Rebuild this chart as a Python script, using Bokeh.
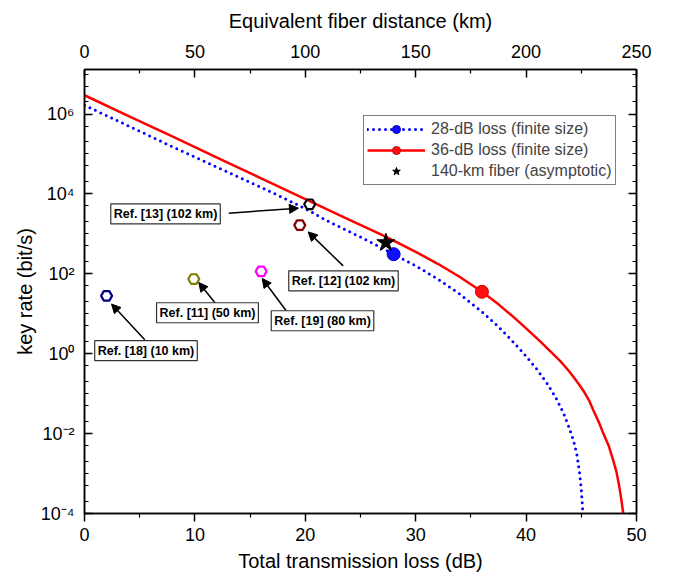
from bokeh.plotting import figure
from bokeh.models import (Range1d, LinearAxis, LogAxis, FixedTicker, Label, Arrow,
                          NormalHead, Legend, LegendItem)
from bokeh.embed import file_html
from bokeh.resources import INLINE

# ---------------- data ----------------
loss_28 = [0, 4, 8, 12, 16.2, 20, 22, 25, 28, 30, 32, 34, 36, 37.4, 38.6, 39.8, 41.0,
           41.9, 42.7, 43.4, 43.9, 44.3, 44.6, 44.84, 45.0, 45.14, 45.18]
rate_28 = [1.66e6, 5.0e5, 1.5e5, 4.7e4, 1.38e4, 4.3e3, 2.1e3, 830, 310, 158, 74, 31,
           11.2, 5.0, 2.3, 1.0, 0.4, 0.18, 0.079, 0.032, 0.014, 0.0066, 0.003, 0.00105,
           4e-4, 1.07e-4, 8e-5]

loss_36 = [0, 4, 8, 12, 16, 20, 24, 26.8, 28, 30, 32, 34, 36, 37.5, 38.9, 40, 41.3,
           42.2, 43.1, 43.8, 44.3, 44.8, 45.2, 45.7, 46.1, 46.6, 47.0, 47.5, 47.9, 48.2,
           48.4, 48.6, 48.8, 48.85]
rate_36 = [2.95e6, 8.9e5, 2.7e5, 8.1e4, 2.45e4, 7.4e3, 2.24e3, 980, 676, 355, 178, 83,
           35.5, 17.2, 8.1, 4.3, 2.0, 1.15, 0.65, 0.39, 0.26, 0.17, 0.117, 0.068, 0.038,
           0.019, 0.01, 0.0048, 0.0021, 0.00105, 0.00055, 0.00025, 1.0e-4, 8e-5]

series_labels = ["28-dB loss (finite size)", "36-dB loss (finite size)",
                 "140-km fiber (asymptotic)"]
ball_loss = [28.0, 36.0]
ball_rate = [310, 35.5]
ball_colors = ["#1010ff", "#ff1010"]
star_loss = [27.3]
star_rate = [600]

ref_names = ["Ref. [18] (10 km)", "Ref. [11] (50 km)", "Ref. [19] (80 km)",
             "Ref. [12] (102 km)", "Ref. [13] (102 km)"]
ref_loss = [2.0, 9.9, 16.0, 19.5, 20.4]
ref_rate = [28, 74, 115, 1650, 5500]
ref_colors = ["#000080", "#808000", "#ff00ff", "#800000", "#000000"]

y_ticks = [1e-4, 1e-2, 1.0, 1e2, 1e4, 1e6]
y_tick_labels = ["10\u207b\u2074", "10\u207b\u00b2", "10\u2070", "10\u00b2", "10\u2074", "10\u2076"]
x_ticks = [0, 10, 20, 30, 40, 50]
km_ticks = [0, 50, 100, 150, 200, 250]

# annotation placement (label centre, arrow start, arrow end) in data coordinates
label_pos = [(5.57, 1.19), (11.14, 10.6), (21.56, 6.68), (23.46, 66.8), (7.34, 3160)]
arrow_pos = [((5.46, 2.24), (2.45, 17.5)),
             ((11.87, 18.1), (10.35, 60.6)),
             ((18.27, 11.9), (16.1, 76.3)),
             ((23.43, 158), (20.26, 1120)),
             ((13.07, 3292), (19.38, 4390))]

FONT = "Liberation Sans"

p = figure(width=677, height=580, x_range=Range1d(0, 50), y_range=Range1d(1e-4, 1.3e7),
           y_axis_type="log", output_backend="svg", toolbar_location=None,
           min_border_left=84, min_border_right=41, min_border_top=69, min_border_bottom=67)
p.xgrid.visible = False
p.ygrid.visible = False
p.outline_line_color = "black"
p.outline_line_width = 1.5
p.background_fill_color = "white"
p.border_fill_color = "white"

y_minor = []
for d in range(-4, 8):
    for m in (1, 2, 5):
        y_minor.append(m * 10.0 ** d)


def style_axis(ax, inward=True, major=8, minor=4):
    ax.axis_line_color = "black"
    ax.axis_line_width = 1.5
    ax.major_tick_line_width = 1.5
    ax.minor_tick_line_width = 1.2
    ax.major_tick_line_color = "black"
    ax.minor_tick_line_color = "black"
    if inward:
        ax.major_tick_in = major
        ax.major_tick_out = 0
        ax.minor_tick_in = minor
        ax.minor_tick_out = 0
    else:
        ax.major_tick_in = 0
        ax.major_tick_out = major
        ax.minor_tick_in = 0
        ax.minor_tick_out = minor
    ax.major_label_text_font = FONT
    ax.major_label_text_font_size = "18px"
    ax.major_label_text_color = "black"
    ax.axis_label_text_font = FONT
    ax.axis_label_text_font_size = "20px"
    ax.axis_label_text_font_style = "normal"
    ax.axis_label_text_color = "black"


# bottom axis
xa = p.xaxis[0]
xa.ticker = FixedTicker(ticks=x_ticks, minor_ticks=[5, 15, 25, 35, 45])
xa.axis_label = "Total transmission loss (dB)"
style_axis(xa, inward=False)
xa.major_label_standoff = 6
xa.axis_label_standoff = 6

# left axis
ya = p.yaxis[0]
ya.ticker = FixedTicker(ticks=y_ticks, minor_ticks=y_minor)
ya.major_label_overrides = dict(zip(y_ticks, y_tick_labels))
ya.axis_label = "key rate (bit/s)"
style_axis(ya, inward=True)
ya.major_label_standoff = 10
ya.axis_label_standoff = 2

# right axis (ticks only)
ra = LogAxis(ticker=FixedTicker(ticks=y_ticks, minor_ticks=y_minor))
style_axis(ra, inward=True)
ra.major_label_overrides = {t: "" for t in y_ticks}
p.add_layout(ra, "right")

# top axis (km)
p.extra_x_ranges = {"km": Range1d(0, 250)}
ta = LinearAxis(x_range_name="km", axis_label="Equivalent fiber distance (km)",
                ticker=FixedTicker(ticks=km_ticks, minor_ticks=[25, 75, 125, 175, 225]))
style_axis(ta, inward=True)
ta.major_label_standoff = 12
ta.axis_label_standoff = 10
p.add_layout(ta, "above")

# curves
r_blue = p.line(loss_28, rate_28, line_color="#0000ff", line_width=3,
                line_dash="0 6", line_cap="round")
r_red = p.line(loss_36, rate_36, line_color="#ff0000", line_width=2.5)

# reference points
p.scatter(ref_loss, ref_rate, marker="hex", size=11, fill_color=None,
          line_color=ref_colors, line_width=2.2)

# finite size points
r_bb = p.scatter([ball_loss[0]], [ball_rate[0]], marker="circle", size=13,
                 fill_color=ball_colors[0], line_color="#0000cc", line_width=1)
r_rb = p.scatter([ball_loss[1]], [ball_rate[1]], marker="circle", size=13,
                 fill_color=ball_colors[1], line_color="#cc0000", line_width=1)
r_star = p.scatter(star_loss, star_rate, marker="star", size=19, fill_color="black",
                   line_color="black")

# labels and arrows
for name, (lx, ly), ((x0, y0), (x1, y1)) in zip(ref_names, label_pos, arrow_pos):
    p.add_layout(Arrow(end=NormalHead(size=9, fill_color="black", line_color="black",
                                      line_width=1),
                       x_start=x0, y_start=y0, x_end=x1, y_end=y1,
                       line_color="black", line_width=1.5))
    p.add_layout(Label(x=lx, y=ly, text=name, text_align="center", text_baseline="middle",
                       text_font=FONT, text_font_size="12.5px", text_font_style="bold",
                       text_color="black", border_line_color="#333333",
                       border_line_width=1.2, background_fill_color="white",
                       padding=3))

legend = Legend(items=[LegendItem(label=series_labels[0], renderers=[r_blue, r_bb]),
                       LegendItem(label=series_labels[1], renderers=[r_red, r_rb]),
                       LegendItem(label=series_labels[2], renderers=[r_star])],
                location=(279, 328), border_line_color="black", border_line_width=1.2,
                background_fill_color="white", background_fill_alpha=1.0,
                label_text_font=FONT, label_text_font_size="16px",
                label_height=20, glyph_height=20, glyph_width=58, label_standoff=6,
                spacing=1, padding=3, margin=0)
p.add_layout(legend)

open("out.html", "w").write(file_html(p, INLINE))
